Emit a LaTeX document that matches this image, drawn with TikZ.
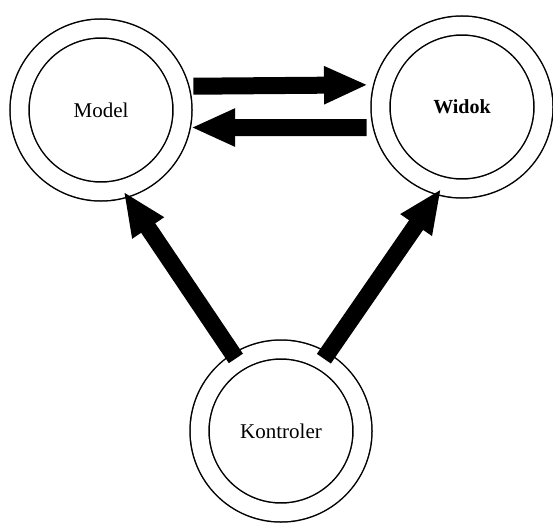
\documentclass[tikz,border=0pt]{standalone}
\usepackage{fontspec}
\setmainfont{Liberation Serif}
\usetikzlibrary{arrows.meta}
\begin{document}
\begin{tikzpicture}[x=1pt,y=-1pt,
  ring/.style={circle, draw, line width=1.5pt, double, double distance=17.5pt,
    minimum size=163pt, inner sep=0pt, outer sep=10.25pt,
    font=\fontsize{21}{25}\selectfont},
  bigarrow/.style={line width=17pt, line cap=butt,
    -{Triangle[length=44pt,width=35pt]}}]
  \useasboundingbox (0,0) rectangle (553,524);

  \node[ring] (model) at (101,110) {Model};
  \node[ring, font=\fontsize{20}{24}\selectfont\bfseries] (widok) at (462,107) {Widok};
  \node[ring] (kontroler) at (281,431) {Kontroler};

  % model <-> view
  \draw[bigarrow, shorten <=3.7pt, shorten >=5pt] (model.15.8) -- (widok.166.1);
  \draw[bigarrow, shorten <=6pt] (widok.193.9) -- (model.-11.95);

  % controller -> model, controller -> view
  \draw[bigarrow, shorten <=-6.3pt, shorten >=-7.5pt] (kontroler.122) -- (model.-73);
  \draw[bigarrow, shorten <=-7.7pt, shorten >=-7.7pt] (kontroler.59.8) -- (widok.254.8);
\end{tikzpicture}
\end{document}
